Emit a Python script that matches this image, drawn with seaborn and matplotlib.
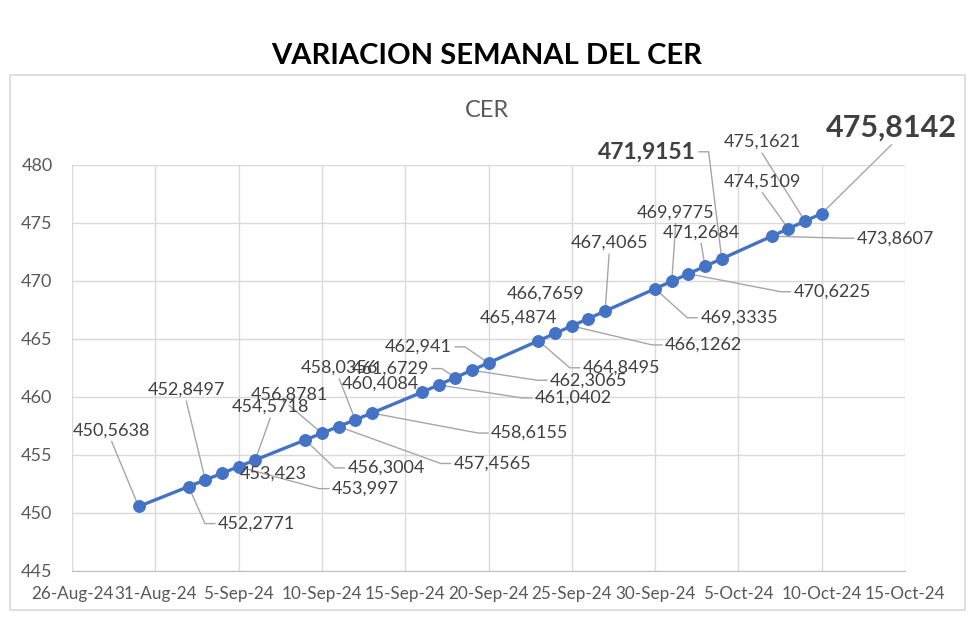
import numpy as np
import pandas as pd
import matplotlib
matplotlib.use("Agg")
import matplotlib.pyplot as plt
import matplotlib.dates as mdates
from matplotlib.patches import Rectangle
import seaborn as sns

# CER values (daily, business days)
dates = pd.to_datetime([
    "2024-08-30", "2024-09-02", "2024-09-03", "2024-09-04", "2024-09-05",
    "2024-09-06", "2024-09-09", "2024-09-10", "2024-09-11", "2024-09-12",
    "2024-09-13", "2024-09-16", "2024-09-17", "2024-09-18", "2024-09-19",
    "2024-09-20", "2024-09-23", "2024-09-24", "2024-09-25", "2024-09-26",
    "2024-09-27", "2024-09-30", "2024-10-01", "2024-10-02", "2024-10-03",
    "2024-10-04", "2024-10-07", "2024-10-08", "2024-10-09", "2024-10-10",
])
cer = [
    450.5638, 452.2771, 452.8497, 453.4230, 453.9970,
    454.5718, 456.3004, 456.8781, 457.4565, 458.0356,
    458.6155, 460.4084, 461.0402, 461.6729, 462.3065,
    462.9410, 464.8495, 465.4874, 466.1262, 466.7659,
    467.4065, 469.3335, 469.9775, 470.6225, 471.2684,
    471.9151, 473.8607, 474.5109, 475.1621, 475.8142,
]
tick_dates = pd.date_range("2024-08-26", "2024-10-15", freq="5D")
y_ticks = [445, 450, 455, 460, 465, 470, 475, 480]

# label placement: offset of label centre from its point, in pixels (x right, y up)
label_offsets = [
    (-27, 76), (68, -37), (-19, 90), (51, 0), (127, -22),
    (15, 53), (81, -28), (-33, 39), (154, -37), (-16, 52),
    (158, -20), (-41, 9), (135, -13), (-65, 9), (117, -10),
    (-70, 16), (83, -27), (-37, 16), (132, -19), (-43, 25),
    (4, 68), (84, -29), (4, 69), (144, -18), (-4, 34),
    (-75, 107), (124, -2), (-26, 47), (-43, 79), (70, 86),
]
big_labels = {25: 16.5, 29: 22}

BLUE = "#4472C4"
GRID = "#D9D9D9"
TXT = "#595959"
LAB = "#404040"
LEAD = "#A6A6A6"

sns.set_style("white")
plt.rcParams["font.family"] = ["Lato", "DejaVu Sans"]

fig = plt.figure(figsize=(9.8, 6.23), dpi=100)
ax = fig.add_axes([72 / 980, 52 / 623, 833 / 980, 406 / 623])

fig.patches.append(Rectangle((10 / 980, 13 / 623), 955 / 980, 535 / 623,
                             transform=fig.transFigure, fill=False,
                             edgecolor=GRID, lw=1.2, zorder=0))

df = pd.DataFrame({"fecha": dates, "cer": cer})
sns.lineplot(data=df, x="fecha", y="cer", ax=ax, color=BLUE, lw=2.4,
             marker="o", markersize=8.5, markeredgecolor=BLUE, zorder=4)

ax.set_xlim(tick_dates[0], tick_dates[-1])
ax.set_ylim(445, 480)
ax.set_xticks(tick_dates)
ax.xaxis.set_major_formatter(mdates.DateFormatter("%-d-%b-%y"))
ax.set_yticks(y_ticks)
ax.grid(True, color=GRID, lw=1)
ax.set_axisbelow(True)
for s in ["top", "right", "left"]:
    ax.spines[s].set_visible(False)
ax.spines["bottom"].set_color("#BFBFBF")
ax.tick_params(axis="both", length=0, colors=TXT)
ax.tick_params(axis="y", pad=14, labelsize=13)
ax.tick_params(axis="x", pad=11, labelsize=12.3)
ax.set_xlabel("")
ax.set_ylabel("")

fig.text(0.4965, 0.910, "VARIACION SEMANAL DEL CER", ha="center", va="center",
         fontsize=21, fontweight="bold", color="black")
fig.text(0.497, 0.823, "CER", ha="center", va="center", fontsize=17, color=TXT)

texts = []
for i, (d, v) in enumerate(zip(dates, cer)):
    lab = f"{v:.4f}".rstrip("0").replace(".", ",")
    if i in big_labels:
        t = ax.annotate(lab, xy=(d, v), xytext=label_offsets[i], textcoords="offset pixels",
                        ha="center", va="center", fontsize=big_labels[i],
                        fontweight="bold", color=LAB, zorder=6)
    else:
        t = ax.annotate(lab, xy=(d, v), xytext=label_offsets[i], textcoords="offset pixels",
                        ha="center", va="center", fontsize=13, color=LAB, zorder=6)
    texts.append(t)

# leader lines, drawn in pixel space like Excel's callouts
fig.canvas.draw()
r = fig.canvas.get_renderer()
inv = ax.transData.inverted()
for t, d, v in zip(texts, dates, cer):
    px, py = ax.transData.transform((mdates.date2num(d), v))
    bb = t.get_window_extent(r)
    cx, cy = (bb.x0 + bb.x1) / 2, (bb.y0 + bb.y1) / 2
    dxn = max(bb.x0 - px, 0, px - bb.x1)
    dyn = max(bb.y0 - py, 0, py - bb.y1)
    if np.hypot(dxn, dyn) < 20:
        continue
    if bb.x0 - 15 <= px <= bb.x1 + 15:
        ey = bb.y0 - 3 if cy > py else bb.y1 + 3
        pts = [(px, py), (cx, ey)]
    elif bb.x0 > px:
        pts = [(px, py), (bb.x0 - 13, cy), (bb.x0 - 3, cy)]
    else:
        pts = [(px, py), (bb.x1 + 13, cy), (bb.x1 + 3, cy)]
    dp = inv.transform(pts)
    ax.plot(dp[:, 0], dp[:, 1], color=LEAD, lw=1, zorder=2, clip_on=False)

fig.savefig("out.png", dpi=100)
